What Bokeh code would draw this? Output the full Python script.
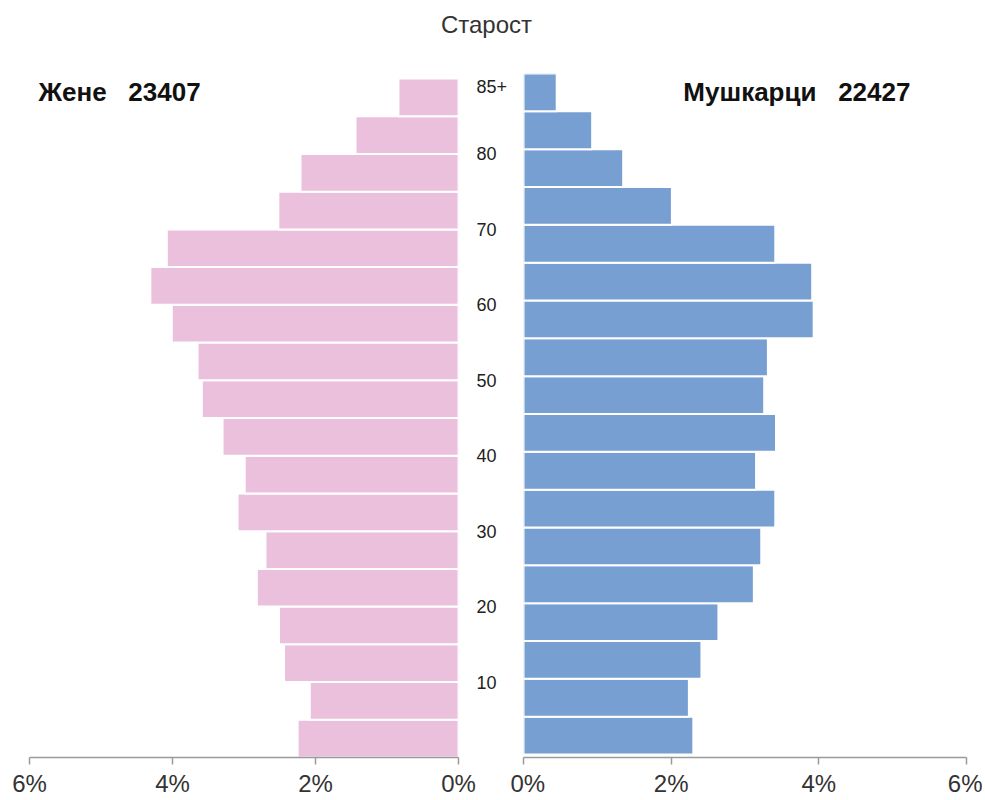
from bokeh.plotting import figure
from bokeh.layouts import column, row
from bokeh.models import Range1d, FixedTicker, ColumnDataSource, LinearAxis
from bokeh.core.properties import value
from bokeh.embed import file_html
from bokeh.resources import INLINE

# ---------------- data ----------------
TITLE = "Старост"
WOMEN_LABEL = "Жене\u00a0\u00a0\u00a023407"
MEN_LABEL = "Мушкарци\u00a0\u00a0\u00a022427"

age_start = [0, 5, 10, 15, 20, 25, 30, 35, 40, 45, 50, 55, 60, 65, 70, 75, 80, 85]
women_pct = [2.25, 2.08, 2.44, 2.51, 2.82, 2.70, 3.09, 2.99, 3.30, 3.59,
             3.65, 4.01, 4.31, 4.08, 2.52, 2.21, 1.44, 0.84]
men_pct = [2.30, 2.24, 2.41, 2.64, 3.12, 3.22, 3.41, 3.15, 3.42, 3.26,
           3.31, 3.93, 3.91, 3.41, 2.01, 1.35, 0.93, 0.45]

age_tick_pos = [10, 20, 30, 40, 50, 60, 70, 80, 89]
age_tick_text = ["10", "20", "30", "40", "50", "60", "70", "80", "85+"]

pct_ticks = [0, 2, 4, 6]
pct_labels = {0: "0%", 2: "2%", 4: "4%", 6: "6%"}

PINK = "#EBC0DD"
BLUE = "#779FD2"
FONT = "Liberation Sans"

age_end = [a + 5 for a in age_start]
zeros = [0] * len(age_start)

src_w = ColumnDataSource(dict(left=zeros, right=women_pct, bottom=age_start, top=age_end))
src_m = ColumnDataSource(dict(left=zeros, right=men_pct, bottom=age_start, top=age_end))

ROW_TOP = 48          # page y where the row of panels starts
FRAME_TOP = 73        # page y of all frame tops
FRAME_BOT = 757       # page y of all frame bottoms (x axes)
BOTTOM_BORDER = 43
FRAME_H = FRAME_BOT - FRAME_TOP

L_LEFT = 29
L_FRAME_W = 429       # 6%..0% on the women side
R_FRAME_W = 443       # 0%..6% on the men side
MID_BORDER = 50       # room for the age labels right of the women frame
R_BORDER_LEFT = 13    # gap between the women canvas and the men frame

# women bars occupy 78..757, men bars 73..754 (pixel extents of the age scale)
L_PX_PER_YR = (757 - 78) / 90.0
R_PX_PER_YR = (754 - 73) / 90.0
left_y = Range1d(0, FRAME_H / L_PX_PER_YR)
right_y = Range1d(-(FRAME_BOT - 754) / R_PX_PER_YR, 90)


def style_axis(ax):
    ax.ticker = FixedTicker(ticks=pct_ticks)
    ax.major_label_overrides = pct_labels
    ax.axis_line_color = "#9a9a9a"
    ax.axis_line_width = 1.5
    ax.major_tick_line_color = "#9a9a9a"
    ax.major_tick_line_width = 1.5
    ax.major_tick_in = 0
    ax.major_tick_out = 7
    ax.minor_tick_line_color = None
    ax.major_label_text_font = FONT
    ax.major_label_text_font_size = "24px"
    ax.major_label_text_color = "#333333"
    ax.major_label_standoff = 5


# ---------------- title ----------------
tfig = figure(width=984, height=ROW_TOP, x_range=Range1d(0, 1), y_range=Range1d(0, 1),
              toolbar_location=None, output_backend="svg", min_border=0)
tfig.axis.visible = False
tfig.grid.visible = False
tfig.outline_line_color = None
tfig.text(x=[486 / 984], y=[0.5], text=[TITLE], text_align="center", text_baseline="middle",
          text_font=value(FONT), text_font_size="24px", text_color="#333333")

# ---------------- left (women) ----------------
left = figure(frame_width=L_FRAME_W, frame_height=FRAME_H,
              x_range=Range1d(6, 0), y_range=left_y,
              toolbar_location=None, output_backend="svg",
              min_border_left=L_LEFT, min_border_right=MID_BORDER,
              min_border_top=FRAME_TOP - ROW_TOP, min_border_bottom=BOTTOM_BORDER)
left.quad(left="left", right="right", bottom="bottom", top="top", source=src_w,
          fill_color=PINK, line_color="white", line_width=2)
left.yaxis.visible = False
left.grid.visible = False
left.outline_line_color = None
style_axis(left.xaxis[0])
left.text(x=[5.874], y=[88.2], text=[WOMEN_LABEL], text_align="left", text_baseline="middle",
          text_font=value(FONT), text_font_style="bold", text_font_size="26px", text_color="#111111")

# age labels: an axis on the right side of the women panel
age_axis = LinearAxis(ticker=FixedTicker(ticks=age_tick_pos),
                      major_label_overrides=dict(zip(age_tick_pos, age_tick_text)))
age_axis.axis_line_color = None
age_axis.major_tick_line_color = None
age_axis.minor_tick_line_color = None
age_axis.major_tick_in = 0
age_axis.major_tick_out = 0
age_axis.major_label_standoff = 18
age_axis.major_label_text_font = FONT
age_axis.major_label_text_font_size = "18px"
age_axis.major_label_text_color = "#222222"
left.add_layout(age_axis, "right")

# ---------------- right (men) ----------------
right = figure(frame_width=R_FRAME_W, frame_height=FRAME_H,
               x_range=Range1d(0, 6), y_range=right_y,
               toolbar_location=None, output_backend="svg",
               min_border_left=R_BORDER_LEFT, min_border_right=16,
               min_border_top=FRAME_TOP - ROW_TOP, min_border_bottom=BOTTOM_BORDER)
right.quad(left="left", right="right", bottom="bottom", top="top", source=src_m,
           fill_color=BLUE, line_color="white", line_width=2)
right.yaxis.visible = False
right.grid.visible = False
right.outline_line_color = None
style_axis(right.xaxis[0])
right.text(x=[2.165], y=[87.6], text=[MEN_LABEL], text_align="left", text_baseline="middle",
           text_font=value(FONT), text_font_style="bold", text_font_size="26px", text_color="#111111")

layout = column(tfig, row(left, right, spacing=0), spacing=0)

open("out.html", "w").write(file_html(layout, INLINE))
